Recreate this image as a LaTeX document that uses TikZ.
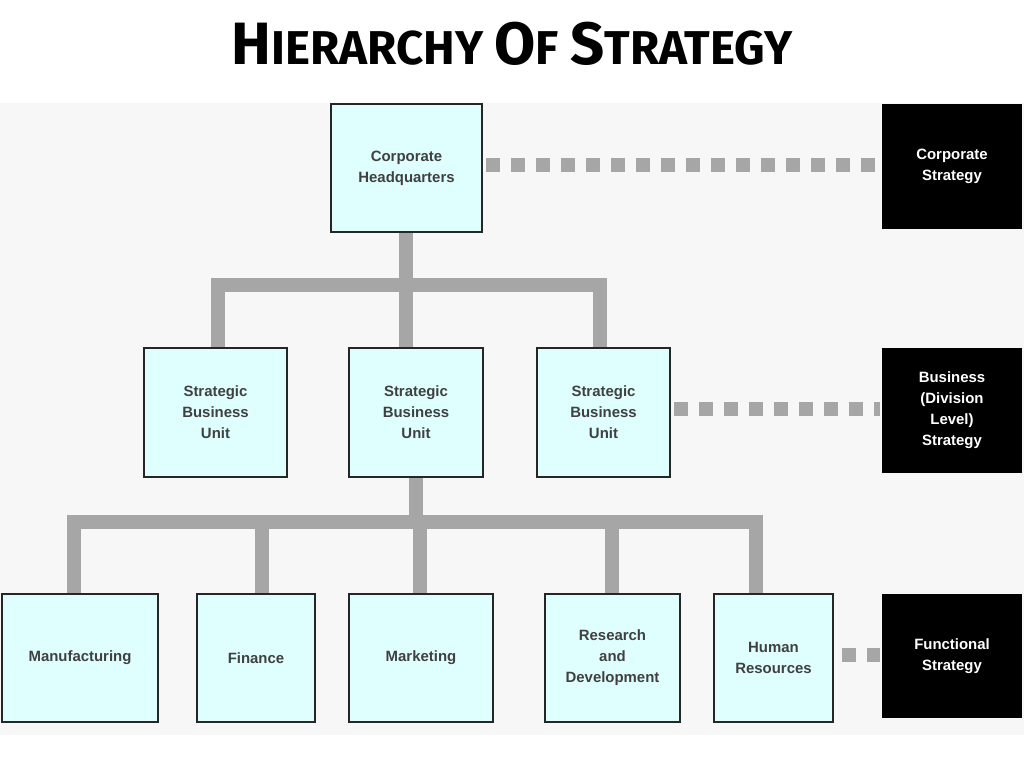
\documentclass[tikz,border=0pt]{standalone}
\usepackage{fontspec}
\setmainfont{Liberation Sans}
\newfontfamily\titlefont{Fira Sans}
\newcommand{\titlecap}[1]{{\fontsize{34pt}{34pt}\selectfont #1}}
\definecolor{boxcolor}{HTML}{DFFFFF}
\definecolor{barcolor}{HTML}{A6A6A6}
\definecolor{bgcolor}{HTML}{F7F7F7}
\tikzset{
    unitbox/.style={draw=black!85, line width=1.6pt, fill=boxcolor, align=center,
        font=\fontsize{8.5pt}{12pt}\selectfont\bfseries, text=black!75},
    levelbox/.style={fill=black, align=center, text=white,
        font=\fontsize{8.5pt}{12pt}\selectfont\bfseries},
    bar/.style={barcolor, line width=0.28cm},
    dots/.style={barcolor, line width=0.28cm, dash pattern=on 0.28cm off 0.22cm},
}
\begin{document}
\begin{tikzpicture}[x=0.02cm, y=-0.02cm]
    \useasboundingbox (0, 0) rectangle (1024, 768);
    \fill [bgcolor] (0, 103) rectangle (1024, 735);

    \node [font=\titlefont\fontsize{27pt}{27pt}\selectfont\bfseries] (title) at (512, 44)
        {\titlecap{H}IERARCHY \titlecap{O}F \titlecap{S}TRATEGY};

    % connectors
    \draw [bar] (406, 232) -- (406, 285);
    \draw [bar] (218, 348) -- (218, 285) -- (600, 285) -- (600, 348);
    \draw [bar] (406, 285) -- (406, 348);
    \draw [bar] (416, 477) -- (416, 522);
    \draw [bar] (74, 594) -- (74, 522) -- (756, 522) -- (756, 594);
    \foreach \x in {262, 420, 612} {%
            \draw [bar] (\x, 522) -- (\x, 594);
        }
    \draw [dots] (486, 165) -- (880, 165);
    \draw [dots] (674, 409) -- (880, 409);
    \draw [dots] (842, 655) -- (880, 655);

    % boxes
    \node [unitbox, minimum width=3.02cm, minimum height=2.56cm] (hq) at (406.5, 168) {Corporate\\Headquarters};
    \node [unitbox, minimum width=2.86cm, minimum height=2.58cm] (sbuA) at (215.5, 412.5) {Strategic\\Business\\Unit};
    \node [unitbox, minimum width=2.68cm, minimum height=2.58cm] (sbuB) at (416, 412.5) {Strategic\\Business\\Unit};
    \node [unitbox, minimum width=2.66cm, minimum height=2.58cm] (sbuC) at (603.5, 412.5) {Strategic\\Business\\Unit};
    \node [unitbox, minimum width=3.12cm, minimum height=2.56cm] (manu) at (80, 658) {Manufacturing};
    \node [unitbox, minimum width=2.36cm, minimum height=2.56cm] (fin) at (256, 658) {Finance};
    \node [unitbox, minimum width=2.88cm, minimum height=2.56cm] (mkt) at (421, 658) {Marketing};
    \node [unitbox, minimum width=2.70cm, minimum height=2.56cm] (rnd) at (612.5, 658) {Research\\and\\Development};
    \node [unitbox, minimum width=2.38cm, minimum height=2.56cm] (hr) at (773.5, 658) {Human\\Resources};

    \node [levelbox, minimum width=2.8cm, minimum height=2.5cm] (corp) at (952, 166.5) {Corporate\\Strategy};
    \node [levelbox, minimum width=2.8cm, minimum height=2.5cm] (bus) at (952, 410.5) {Business\\(Division\\Level)\\Strategy};
    \node [levelbox, minimum width=2.8cm, minimum height=2.48cm] (func) at (952, 656) {Functional\\Strategy};
\end{tikzpicture}
\end{document}
